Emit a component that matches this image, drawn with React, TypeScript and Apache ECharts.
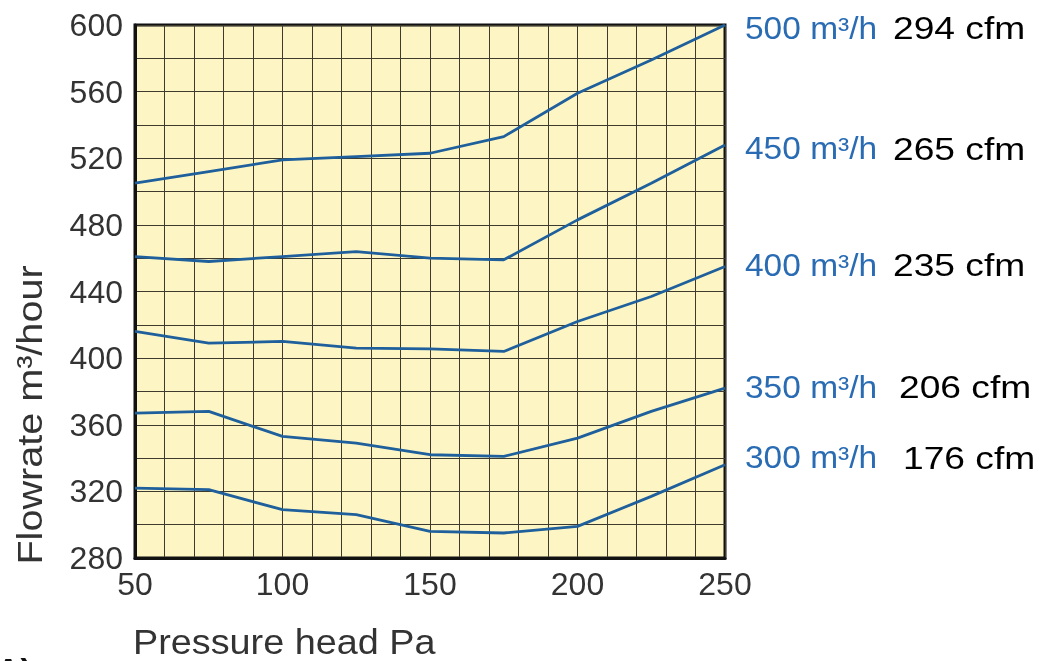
import React, { useEffect, useRef } from "react";
import * as echarts from "echarts";

const pressure = [50, 75, 100, 125, 150, 175, 200, 225, 250];
const flow500 = [505, 512, 519, 521, 523, 533, 559, 579, 600];
const flow450 = [461, 458, 461, 464, 460, 459, 483, 505, 528];
const flow400 = [416, 409, 410, 406, 405.5, 404, 422, 437, 455];
const flow350 = [367, 368, 353, 349, 342, 341, 352, 368, 382];
const flow300 = [322, 321, 309, 306, 296, 295, 299, 317, 336];

const seriesValues = [flow500, flow450, flow400, flow350, flow300];
const flowLabels = ["500 m³/h", "450 m³/h", "400 m³/h", "350 m³/h", "300 m³/h"];
const cfmLabels = ["294 cfm", "265 cfm", "235 cfm", "206 cfm", "176 cfm"];

// label layout (styling only)
const labelDy = [3, 4, -1, -1, -7];
const cfmX = [893, 893, 893, 899, 903];

const LINE_BLUE = "#1e5f9c";
const TEXT_BLUE = "#2a6cb3";
const GRID_COLOR = "#3f3a2e";
const FONT = "Liberation Sans, Arial, sans-serif";

export default function App() {
  const ref = useRef<HTMLDivElement>(null);

  useEffect(() => {
    if (!ref.current) return;
    const chart = echarts.init(ref.current, undefined, { renderer: "svg" });

    const series = seriesValues.map((vals, i) => ({
      type: "line",
      name: flowLabels[i],
      data: vals.map((v, j) => [pressure[j], v]),
      showSymbol: false,
      symbol: "none",
      lineStyle: { color: LINE_BLUE, width: 2.8 },
    }));

    const staticGraphics: any[] = [
      {
        type: "text",
        x: 30,
        y: 415,
        rotation: Math.PI / 2,
        scaleX: 1.1,
        style: {
          text: "Flowrate m³/hour",
          fontSize: 36,
          fontFamily: FONT,
          fill: "#333",
          align: "center",
          verticalAlign: "middle",
        },
      },
      {
        type: "text",
        x: 133,
        y: 642,
        scaleX: 1.08,
        style: {
          text: "Pressure head Pa",
          fontSize: 35,
          fontFamily: FONT,
          fill: "#333",
          align: "left",
          verticalAlign: "middle",
        },
      },
      {
        type: "text",
        x: -4,
        y: 670,
        style: {
          text: "A)",
          fontSize: 34,
          fontWeight: "bold",
          fontFamily: FONT,
          fill: "#111",
          align: "left",
          verticalAlign: "middle",
        },
      },
    ];

    chart.setOption({
      animation: false,
      textStyle: { fontFamily: FONT },
      grid: {
        left: 135,
        right: 324,
        top: 25,
        bottom: 103,
        show: true,
        backgroundColor: "#fdf6c4",
        borderColor: "#111",
        borderWidth: 3,
        z: 0,
      },
      xAxis: {
        type: "value",
        min: 50,
        max: 250,
        interval: 50,
        axisLine: { show: true, lineStyle: { color: "#111", width: 3 } },
        axisTick: { show: false },
        axisLabel: { fontSize: 32, color: "#333", margin: 10, fontFamily: FONT },
        splitLine: { show: true, lineStyle: { color: GRID_COLOR, width: 1 } },
        minorTick: { show: false, splitNumber: 5 },
        minorSplitLine: { show: true, lineStyle: { color: GRID_COLOR, width: 1 } },
      },
      yAxis: {
        type: "value",
        min: 280,
        max: 600,
        interval: 40,
        axisLine: { show: true, lineStyle: { color: "#111", width: 3 } },
        axisTick: { show: false },
        axisLabel: { fontSize: 32, color: "#333", margin: 12, fontFamily: FONT },
        splitLine: { show: true, lineStyle: { color: GRID_COLOR, width: 1 } },
        minorTick: { show: false, splitNumber: 2 },
        minorSplitLine: { show: true, lineStyle: { color: GRID_COLOR, width: 1 } },
      },
      graphic: staticGraphics,
      series,
    });

    // right-hand labels placed at each curve's end point
    const labelGraphics: any[] = [];
    seriesValues.forEach((vals, i) => {
      const lastX = pressure[pressure.length - 1];
      const lastY = vals[vals.length - 1];
      const pt = chart.convertToPixel({ gridIndex: 0 }, [lastX, lastY]) as number[];
      const y = pt[1] + labelDy[i];
      labelGraphics.push({
        type: "text",
        x: pt[0] + 20,
        y,
        scaleX: 1.08,
        style: {
          text: flowLabels[i],
          fontSize: 31,
          fontFamily: FONT,
          fill: TEXT_BLUE,
          align: "left",
          verticalAlign: "middle",
        },
      });
      labelGraphics.push({
        type: "text",
        x: cfmX[i],
        y,
        scaleX: 1.18,
        style: {
          text: cfmLabels[i],
          fontSize: 31.5,
          fontFamily: FONT,
          fill: "#000",
          align: "left",
          verticalAlign: "middle",
        },
      });
    });

    chart.setOption({ graphic: [...staticGraphics, ...labelGraphics] });

    return () => chart.dispose();
  }, []);

  return (
    <div
      ref={ref}
      style={{ position: "fixed", left: 0, top: 0, width: 1049, height: 661 }}
    />
  );
}
